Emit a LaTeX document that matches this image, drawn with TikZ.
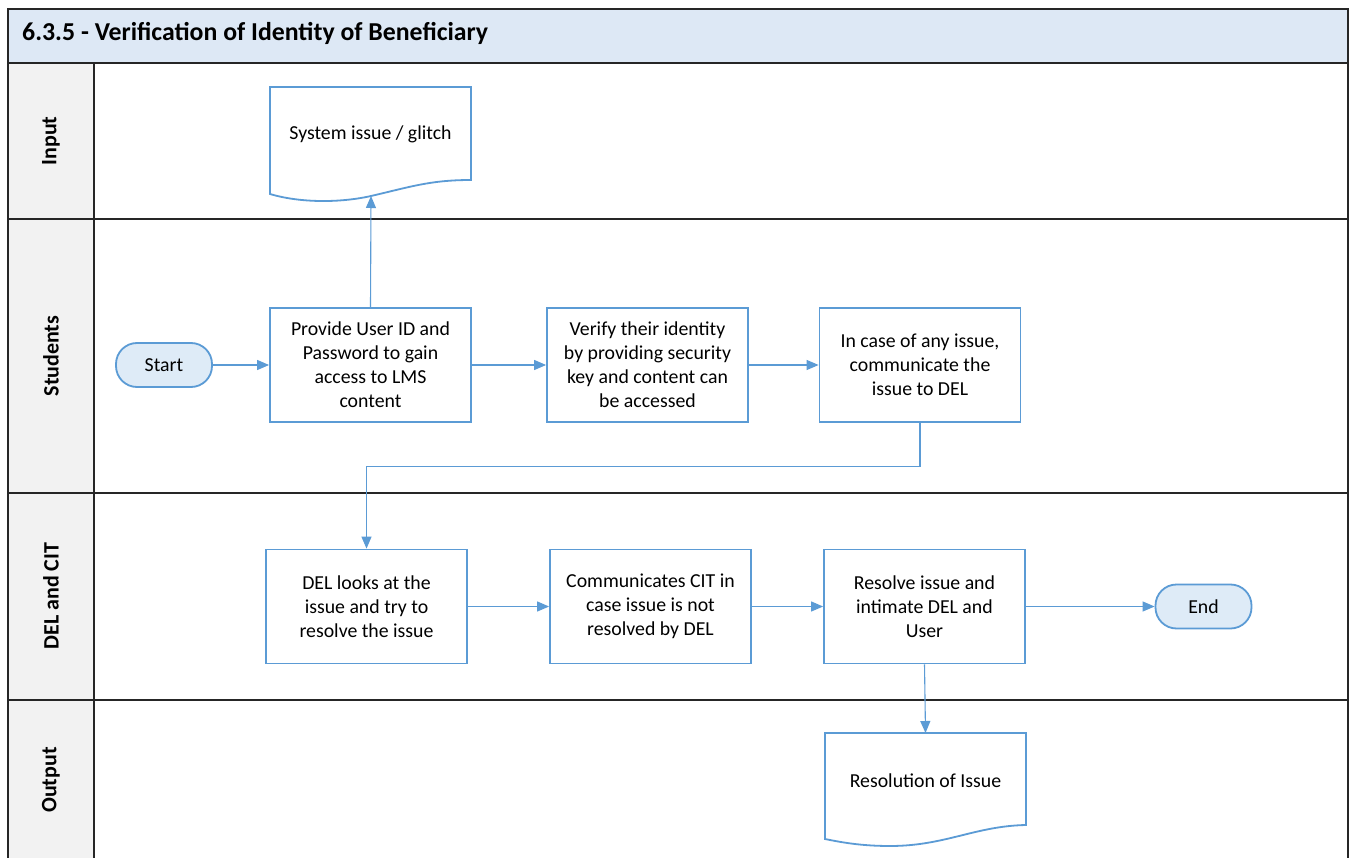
\documentclass[tikz,border=0pt]{standalone}
\usepackage{fontspec}
\setmainfont{Carlito}
\usetikzlibrary{arrows.meta}
\definecolor{flowblue}{RGB}{91,155,213}
\definecolor{termfill}{RGB}{222,235,247}
\definecolor{titlefill}{RGB}{221,232,245}
\definecolor{lanefill}{RGB}{242,242,242}

\begin{document}
\begin{tikzpicture}[x=1pt,y=-1pt,
  bodyfont/.style={font=\fontsize{19.8}{24}\selectfont},
  procbox/.style={bodyfont,draw=flowblue,line width=1.8pt,fill=white,
    minimum width=201pt,minimum height=114pt,inner sep=0pt,align=center},
  term/.style={bodyfont,draw=flowblue,line width=1.8pt,fill=termfill,
    rounded corners=21pt,minimum width=96pt,minimum height=44pt,inner sep=0pt},
  doctext/.style={bodyfont,inner sep=0pt},
  docline/.style={draw=flowblue,line width=1.8pt,fill=white},
  flow/.style={draw=flowblue,line width=1.1pt,-{Triangle[length=12pt,width=10pt]}},
  lanerule/.style={line width=2pt,black!85},
  lanelabel/.style={rotate=90,inner sep=0pt,font=\fontsize{22}{26}\selectfont\bfseries}
]
% page
\fill[white] (0,0) rectangle (1351,858);
\useasboundingbox (0,0) rectangle (1351,858);

% pool background
\fill[titlefill] (8,9) rectangle (1348,63);
\fill[lanefill] (8,63) rectangle (94,858);

% pool and lane rules
\draw[lanerule] (8,858) -- (8,9) -- (1348,9) -- (1348,858);
\foreach \yy in {63,219,493,700} \draw[lanerule] (8,\yy) -- (1348,\yy);
\draw[lanerule] (94,63) -- (94,858);

% title and lane names
\node[anchor=west,inner sep=0pt,font=\fontsize{25.8}{30}\selectfont\bfseries] (title) at (22,33)
  {6.3.5 - Verification of Identity of Beneficiary};
\node[lanelabel] (laneinput) at (51,141) {Input};
\node[lanelabel] (lanestudents) at (51,356) {Students};
\node[lanelabel] (lanedel) at (51,596) {DEL and CIT};
\node[lanelabel] (laneoutput) at (51,780) {Output};

% input document
\path[docline] (270,87) -- (471,87) -- (471,180)
  .. controls (430,180) and (410,187) .. (371,196)
  .. controls (340,203) and (300,203) .. (270,194) -- cycle;
\node[doctext] (glitch) at (370.5,134.5) {System issue / glitch};
\coordinate (glitchbase) at (371,196);

% output document
\path[docline] (825,733) -- (1026,733) -- (1026,825)
  .. controls (975,826) and (945,846) .. (890,846)
  .. controls (860,846) and (840,842) .. (825,839) -- cycle;
\node[doctext] (resolution) at (925.5,780.5) {Resolution of Issue};
\coordinate (resdoctop) at (925.5,733);

% students lane
\node[term] (start) at (164,365) {Start};
\node[procbox] (provide) at (370.5,365) {Provide User ID and\\Password to gain\\access to LMS\\content};
\node[procbox] (verify) at (647.5,365) {Verify their identity\\by providing security\\key and content can\\be accessed};
\node[procbox] (incase) at (920,365) {In case of any issue,\\communicate the\\issue to DEL};

% DEL and CIT lane
\node[procbox] (dellook) at (366.5,606.5) {DEL looks at the\\issue and try to\\resolve the issue};
\node[procbox] (communic) at (650.5,606.5) {Communicates CIT in\\case issue is not\\resolved by DEL};
\node[procbox] (resolve) at (924.5,606.5) {Resolve issue and\\intimate DEL and\\User};
\node[term] (endnode) at (1203.5,606.5) {End};

% connectors
\draw[flow] (start) -- (provide);
\draw[flow] (provide.north) -- (glitchbase);
\draw[flow] (provide) -- (verify);
\draw[flow] (verify) -- (incase);
\draw[flow] (incase.south) -- ++(0,44) -| (dellook.north);
\draw[flow] (dellook) -- (communic);
\draw[flow] (communic) -- (resolve);
\draw[flow] (resolve) -- (endnode);
\draw[flow] (resolve.south) -- (resdoctop);
\end{tikzpicture}
\end{document}
